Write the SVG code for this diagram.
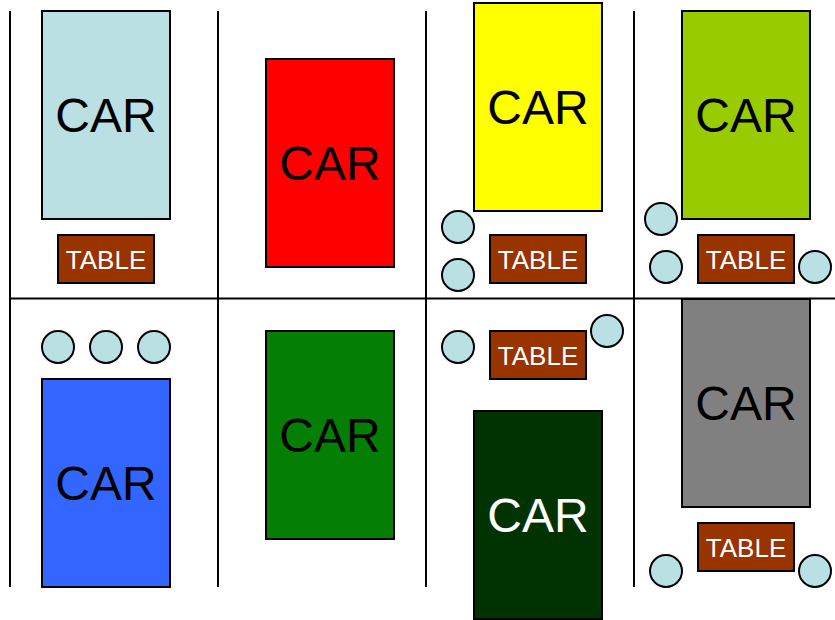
<svg xmlns="http://www.w3.org/2000/svg" width="835" height="620" viewBox="0 0 835 620">
<style>
.car{stroke:#000;stroke-width:2}
.tbl{fill:#993300;stroke:#000;stroke-width:2}
.seat{fill:#B9E0E3;stroke:#000;stroke-width:2}
.ct{font-family:"Liberation Sans",Arial,sans-serif;font-size:48px;text-anchor:middle;fill:#000}
.tt{font-family:"Liberation Sans",Arial,sans-serif;font-size:26px;text-anchor:middle;fill:#fff}
.ln{stroke:#000;stroke-width:2;fill:none}
</style>
<rect width="835" height="620" fill="#fff"/>
<g id="grid">
<line class="ln" x1="10" y1="11" x2="10" y2="587"/>
<line class="ln" x1="218" y1="11" x2="218" y2="587"/>
<line class="ln" x1="426" y1="11" x2="426" y2="587"/>
<line class="ln" x1="634" y1="11" x2="634" y2="587"/>
<line class="ln" x1="10" y1="298.5" x2="835" y2="298.5"/>
</g>
<g id="car1"><rect class="car" x="42" y="11" width="128" height="208" fill="#BAE0E3"/><text class="ct" x="106" y="132">CAR</text></g>
<g id="car2"><rect class="car" x="266" y="59" width="128" height="208" fill="#FF0000"/><text class="ct" x="330" y="180">CAR</text></g>
<g id="car3"><rect class="car" x="474" y="3" width="128" height="208" fill="#FFFF00"/><text class="ct" x="538" y="124">CAR</text></g>
<g id="car4"><rect class="car" x="682" y="11" width="128" height="208" fill="#99CC00"/><text class="ct" x="746" y="132">CAR</text></g>
<g id="car5"><rect class="car" x="42" y="379" width="128" height="208" fill="#3366FF"/><text class="ct" x="106" y="500">CAR</text></g>
<g id="car6"><rect class="car" x="266" y="331" width="128" height="208" fill="#047F04"/><text class="ct" x="330" y="452">CAR</text></g>
<g id="car7"><rect class="car" x="474" y="411" width="128" height="208" fill="#003300"/><text class="ct" x="538" y="532" style="fill:#fff">CAR</text></g>
<g id="car8"><rect class="car" x="682" y="299" width="128" height="208" fill="#808080"/><text class="ct" x="746" y="420">CAR</text></g>
<g id="table1"><rect class="tbl" x="58" y="235" width="96" height="48"/><text class="tt" x="106" y="268.5">TABLE</text></g>
<g id="table2"><rect class="tbl" x="490" y="235" width="96" height="48"/><text class="tt" x="538" y="268.5">TABLE</text></g>
<g id="table3"><rect class="tbl" x="698" y="235" width="96" height="48"/><text class="tt" x="746" y="268.5">TABLE</text></g>
<g id="table4"><rect class="tbl" x="490" y="331" width="96" height="48"/><text class="tt" x="538" y="364.5">TABLE</text></g>
<g id="table5"><rect class="tbl" x="698" y="523" width="96" height="48"/><text class="tt" x="746" y="556.5">TABLE</text></g>
<g id="seats">
<circle class="seat" cx="458" cy="227" r="16"/>
<circle class="seat" cx="458" cy="275" r="16"/>
<circle class="seat" cx="661" cy="219" r="16"/>
<circle class="seat" cx="666" cy="267" r="16"/>
<circle class="seat" cx="815" cy="267" r="16"/>
<circle class="seat" cx="58" cy="347" r="16"/>
<circle class="seat" cx="106" cy="347" r="16"/>
<circle class="seat" cx="154" cy="347" r="16"/>
<circle class="seat" cx="458" cy="347" r="16"/>
<circle class="seat" cx="607" cy="331" r="16"/>
<circle class="seat" cx="666" cy="571" r="16"/>
<circle class="seat" cx="815" cy="571" r="16"/>
</g>
</svg>
